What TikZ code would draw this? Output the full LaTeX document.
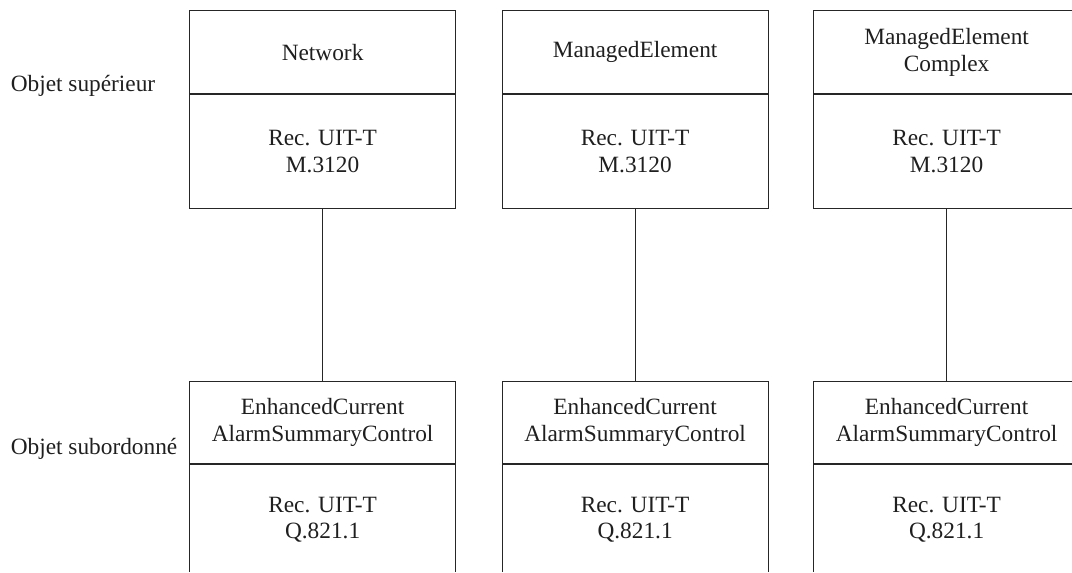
\documentclass[tikz,border=0pt]{standalone}
\usepackage{fontspec}
\setmainfont{Liberation Serif}
\begin{document}
\begin{tikzpicture}[x=0.75pt,y=-0.75pt,
  ink/.style={draw=black!85, line width=0.9pt},
  lbl/.style={text=black!88, font=\fontsize{17.5}{20}\selectfont, inner sep=0pt},
  part/.style={ink, lbl, rectangle, align=center, anchor=north west,
               minimum width=199.5pt},
  tophead/.style={part, minimum height=62.25pt},
  topbody/.style={part, minimum height=85.5pt},
  subhead/.style={part, minimum height=61.5pt},
  subbody/.style={part, minimum height=82.5pt},
  link/.style={ink}]
\useasboundingbox (0,0) rectangle (1072,573);
\clip (0,0) rectangle (1072,572);

% row labels
\node[lbl, anchor=base west] (sup) at (10.5,92) {Objet supérieur};
\node[lbl, anchor=base west] (sub) at (10.5,455) {Objet subordonné};

% superior objects
\node[tophead] (h1) at (189,10) {Network};
\node[topbody] (b1) at (h1.south west) {Rec. UIT-T\\M.3120};
\node[tophead] (h2) at (501.5,10) {ManagedElement};
\node[topbody] (b2) at (h2.south west) {Rec. UIT-T\\M.3120};
\node[tophead] (h3) at (813,10) {ManagedElement\\Complex};
\node[topbody] (b3) at (h3.south west) {Rec. UIT-T\\M.3120};

% subordinate objects
\node[subhead] (s1) at (189,381) {EnhancedCurrent\\AlarmSummaryControl};
\node[subbody] (t1) at (s1.south west) {Rec. UIT-T\\Q.821.1};
\node[subhead] (s2) at (501.5,381) {EnhancedCurrent\\AlarmSummaryControl};
\node[subbody] (t2) at (s2.south west) {Rec. UIT-T\\Q.821.1};
\node[subhead] (s3) at (813,381) {EnhancedCurrent\\AlarmSummaryControl};
\node[subbody] (t3) at (s3.south west) {Rec. UIT-T\\Q.821.1};

% containment links
\draw[link] (b1.south) -- (s1.north);
\draw[link] (b2.south) -- (s2.north);
\draw[link] (b3.south) -- (s3.north);
\end{tikzpicture}
\end{document}
